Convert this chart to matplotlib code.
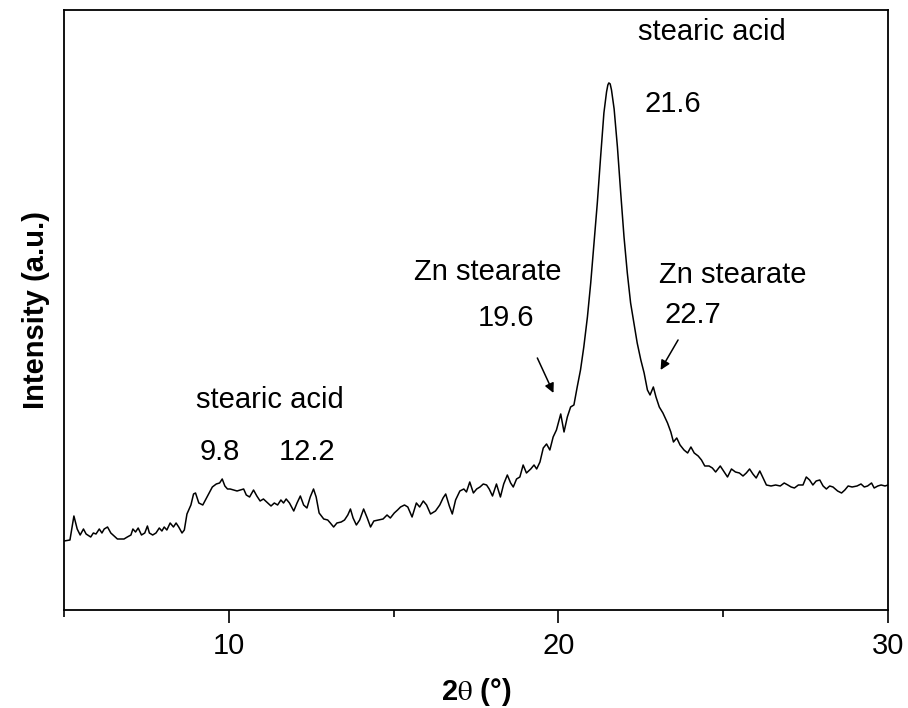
import numpy as np
import matplotlib
matplotlib.use("Agg")
import matplotlib.pyplot as plt
from matplotlib.ticker import MultipleLocator, NullLocator

plt.rcParams["font.family"] = ["Liberation Sans", "DejaVu Sans"]
plt.rcParams["mathtext.fontset"] = "stix"

# XRD pattern, 2theta (deg) and intensity (a.u.)
two_theta = [
    5.00, 5.18, 5.30, 5.40, 5.49, 5.59, 5.67, 5.81, 5.89, 5.97, 6.07, 6.15, 6.22, 6.32, 6.42,
    6.52, 6.62, 6.72, 6.82, 6.92, 7.03, 7.09, 7.17, 7.25, 7.35, 7.45, 7.53, 7.59, 7.69, 7.79,
    7.89, 7.97, 8.04, 8.12, 8.22, 8.32, 8.40, 8.48, 8.58, 8.65, 8.73, 8.85, 8.93, 8.99, 9.09,
    9.21, 9.29, 9.40, 9.50, 9.62, 9.72, 9.80, 9.88, 9.96, 10.04, 10.25, 10.45, 10.53, 10.63,
    10.75, 10.85, 10.95, 11.05, 11.18, 11.28, 11.38, 11.48, 11.58, 11.66, 11.74, 11.84, 11.97,
    12.07, 12.17, 12.27, 12.37, 12.47, 12.57, 12.65, 12.74, 12.88, 13.00, 13.08, 13.18, 13.28,
    13.41, 13.51, 13.61, 13.69, 13.77, 13.87, 13.97, 14.09, 14.20, 14.30, 14.40, 14.54, 14.68,
    14.80, 14.90, 15.02, 15.12, 15.21, 15.33, 15.43, 15.56, 15.69, 15.79, 15.90, 16.00, 16.12,
    16.27, 16.40, 16.50, 16.58, 16.69, 16.78, 16.88, 17.01, 17.13, 17.21, 17.31, 17.42, 17.52,
    17.62, 17.72, 17.82, 17.90, 18.00, 18.12, 18.24, 18.34, 18.45, 18.55, 18.63, 18.73, 18.83,
    18.93, 19.03, 19.16, 19.26, 19.34, 19.44, 19.54, 19.64, 19.74, 19.84, 19.94, 20.07, 20.17,
    20.27, 20.37, 20.47, 20.57, 20.67, 20.77, 20.88, 20.98, 21.08, 21.18, 21.28, 21.38, 21.46,
    21.50, 21.53, 21.57, 21.61, 21.69, 21.79, 21.89, 21.99, 22.09, 22.19, 22.29, 22.39, 22.50,
    22.60, 22.70, 22.78, 22.88, 22.96, 23.06, 23.17, 23.31, 23.41, 23.49, 23.59, 23.69, 23.81,
    23.92, 24.02, 24.12, 24.24, 24.34, 24.44, 24.57, 24.67, 24.77, 24.91, 25.03, 25.13, 25.25,
    25.37, 25.49, 25.60, 25.70, 25.80, 25.90, 26.00, 26.11, 26.21, 26.31, 26.45, 26.59, 26.73,
    26.85, 26.96, 27.06, 27.16, 27.28, 27.42, 27.52, 27.62, 27.72, 27.82, 27.93, 28.03, 28.13,
    28.23, 28.33, 28.47, 28.59, 28.69, 28.79, 28.91, 29.06, 29.18, 29.28, 29.38, 29.50, 29.58,
    29.69, 29.79, 29.91, 30.00,
]
intensity = [
    69, 70, 94, 81, 75, 81, 76, 73, 77, 76, 81, 77, 81, 83, 77,
    74, 71, 71, 71, 73, 75, 81, 78, 82, 75, 77, 84, 77, 75, 77,
    82, 79, 83, 80, 87, 83, 87, 83, 77, 80, 96, 105, 116, 117, 107,
    105, 110, 117, 123, 126, 127, 131, 124, 121, 121, 119, 121, 115, 113,
    120, 114, 109, 111, 107, 104, 107, 105, 110, 107, 111, 107, 99,
    107, 114, 105, 102, 113, 121, 113, 97, 91, 90, 87, 83, 87,
    88, 90, 95, 101, 92, 85, 90, 101, 92, 83, 89, 90, 91,
    95, 92, 97, 100, 103, 105, 103, 93, 107, 103, 109, 105, 96,
    99, 105, 112, 116, 104, 96, 110, 119, 121, 118, 128, 117, 121,
    123, 126, 125, 121, 114, 126, 113, 126, 135, 127, 123, 131, 133,
    145, 137, 141, 145, 141, 148, 162, 166, 160, 173, 180, 196, 178,
    193, 203, 205, 223, 240, 263, 293, 327, 367, 407, 453, 497, 518,
    525, 527, 526, 520, 501, 463, 417, 373, 337, 307, 287, 267, 250,
    237, 220, 215, 223, 213, 203, 197, 187, 178, 168, 172, 165, 160,
    157, 163, 157, 154, 150, 144, 144, 142, 138, 144, 138, 133, 141,
    138, 137, 134, 137, 141, 136, 132, 139, 132, 125, 124, 125, 124,
    127, 125, 123, 122, 125, 125, 133, 130, 125, 129, 130, 124, 121,
    124, 123, 119, 117, 120, 124, 123, 124, 126, 123, 124, 127, 122,
    124, 125, 124, 125,
]

# peak labels: text, x, y
labels = ["stearic acid", "9.8", "12.2", "Zn stearate", "19.6", "stearic acid", "21.6",
          "Zn stearate", "22.7"]
label_x = [11.26, 9.74, 12.38, 17.85, 18.40, 24.65, 23.47, 25.29, 24.08]
label_y = [210, 158, 158, 338, 292, 578, 506, 335, 295]

# arrows: tail -> head
arrow_tail = [(19.36, 252), (23.63, 270)]
arrow_head = [(19.85, 217), (23.10, 240)]

fig = plt.figure(figsize=(9.08, 7.08), dpi=100)
ax = fig.add_axes([0.0705, 0.1384, 0.9075, 0.8476])

ax.plot(two_theta, intensity, color="black", lw=1.1)

for t, x, y in zip(labels, label_x, label_y):
    ax.text(x, y, t, fontsize=21, ha="center", va="center")

for tail, head in zip(arrow_tail, arrow_head):
    ax.annotate("", xy=head, xytext=tail,
                arrowprops=dict(arrowstyle="-|>", color="black", lw=1.1,
                                mutation_scale=14, shrinkA=0, shrinkB=0))

ax.set_xlim(5, 30)
ax.set_ylim(0, 600)
ax.xaxis.set_major_locator(MultipleLocator(10))
ax.xaxis.set_minor_locator(MultipleLocator(5))
ax.yaxis.set_major_locator(NullLocator())
ax.tick_params(axis="x", which="major", direction="out", length=9, width=1.2,
               labelsize=21, pad=7)
ax.tick_params(axis="x", which="minor", direction="out", length=5, width=1.2)
for s in ax.spines.values():
    s.set_linewidth(1.3)

ax.set_xlabel(r"2$\mathrm{\theta}$ (°)", fontsize=21, fontweight="bold", labelpad=11)
ax.set_ylabel("Intensity (a.u.)", fontsize=21, fontweight="bold", labelpad=10)

fig.savefig("out.png", dpi=100)
